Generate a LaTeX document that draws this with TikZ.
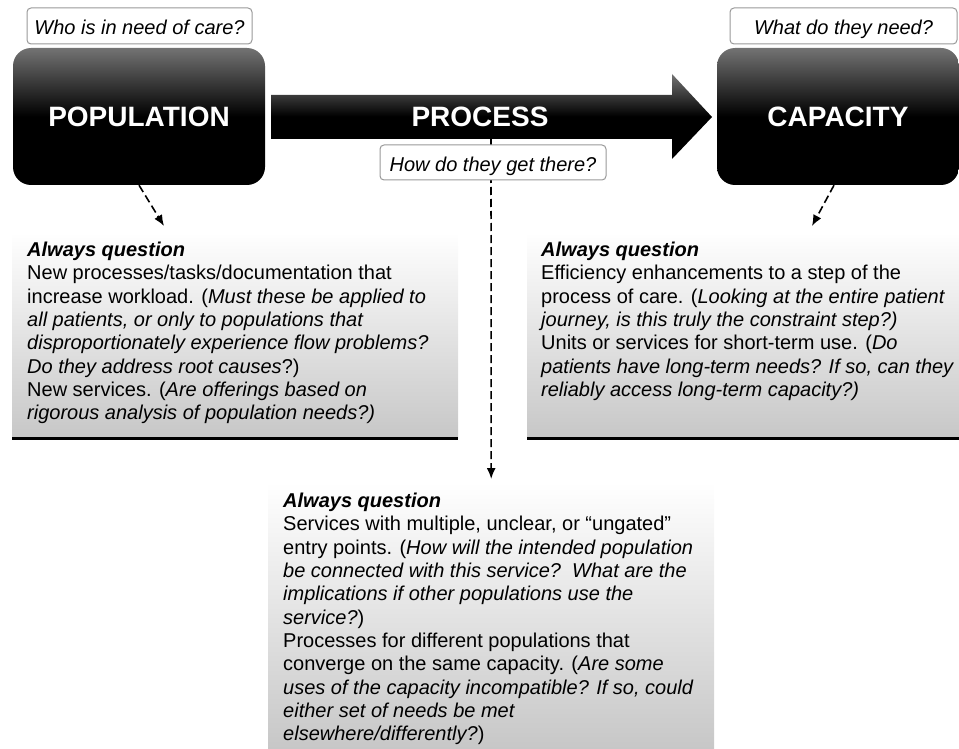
\documentclass[tikz,border=0pt]{standalone}
\usepackage{fontspec}
\setmainfont{Liberation Sans}
\usetikzlibrary{positioning,arrows.meta,arrows}
\usetikzlibrary{calc}
\tikzset{
bigbox/.style={
  rectangle, rounded corners=18pt, draw=none,
  top color=black!55, bottom color=black, middle color=black,
  text=white, font=\fontsize{28}{32}\selectfont\bfseries,
  minimum width=252pt, minimum height=137pt, inner sep=0pt
  },
askbox/.style={
  rectangle, rounded corners=4pt, draw=black!40, line width=1pt, fill=white,
  font=\fontsize{20}{24}\selectfont\itshape, inner sep=0pt,
  text height=18pt, text depth=0pt, minimum height=36pt
  },
notebox/.style={
  rectangle, draw=none, top color=white, bottom color=black!22,
  inner sep=0pt, anchor=north west
  },
notetext/.style={
  align=left, inner sep=0pt, anchor=north west,
  font=\fontsize{20}{23.3}\selectfont
  },
dasharrow/.style={
  ->, dash pattern=on 8pt off 4pt, line width=1.6pt
  }
}

\begin{document}
\begin{tikzpicture}[x=1pt,y=-1pt,>={Latex[length=11pt,width=9pt]}]
\useasboundingbox (0,0) rectangle (959,749);

% main boxes

\node[bigbox](population) at (139,116.5) {POPULATION};
\node[bigbox, minimum width=242pt](capacity) at (838,116.5) {CAPACITY};

\shade[top color=black!55, bottom color=black, middle color=black]
  (271,95) -- (672,95) -- (672,74) -- (712,117) -- (672,159)
  -- (672,139) -- (271,139) -- cycle;
\node[text=white, font=\fontsize{28}{32}\selectfont\bfseries](process) at (480,117) {PROCESS};

% questions above

\node[askbox, minimum width=225pt](whoq) at (139.5,26) {Who is in need of care?};
\node[askbox, minimum width=227pt](whatq) at (843.5,26) {What do they need?};

% notes

\node[notebox, minimum width=446pt, minimum height=206pt](popnote) at (12,232) {};
\draw[line width=3pt] (popnote.south west) -- (popnote.south east);

\node[notebox, minimum width=432pt, minimum height=206pt](capnote) at (527,232) {};
\draw[line width=3pt] (capnote.south west) -- (capnote.south east);

\node[notebox, minimum width=446pt, minimum height=267pt](procnote) at (268,482) {};

\node[notetext, below right=10pt and 15pt of popnote.north west](poptext)
{
\textbf{\textit{Always question}}\\
New processes/tasks/documentation that\\
increase workload. (\textit{Must these be applied to}\\
\textit{all patients, or only to populations that}\\
\textit{disproportionately experience flow problems?}\\
\textit{Do they address root causes}?)\\
New services. (\textit{Are offerings based on}\\
\textit{rigorous analysis of population needs?)}
};

\node[notetext, below right=10pt and 14pt of capnote.north west](captext)
{
\textbf{\textit{Always question}}\\
Efficiency enhancements to a step of the\\
process of care. (\textit{Looking at the entire patient}\\
\textit{journey, is this truly the constraint step?)}\\
Units or services for short-term use. (\textit{Do}\\
\textit{patients have long-term needs? If so, can they}\\
\textit{reliably access long-term capacity?)}
};

\node[notetext, below right=11pt and 15pt of procnote.north west](proctext)
{
\textbf{\textit{Always question}}\\
Services with multiple, unclear, or “ungated”\\
entry points. (\textit{How will the intended population}\\
\textit{be connected with this service?\ \ What are the}\\
\textit{implications if other populations use the}\\
\textit{service?})\\
Processes for different populations that\\
converge on the same capacity. (\textit{Are some}\\
\textit{uses of the capacity incompatible? If so, could}\\
\textit{either set of needs be met}\\
\textit{elsewhere/differently?})
};

% dashed arrows

\coordinate (popend) at (164,226);
\coordinate (capend) at (812,226);
\coordinate (procstart) at (491,139);

\draw[dasharrow] (population.south) -- (popend);
\draw[dasharrow] ([xshift=-4pt]capacity.south) -- (capend);
\draw[dasharrow] (procstart) -- ([yshift=3pt]procnote.north);

\node[askbox, minimum width=226pt, minimum height=35pt](howq) at (493,162.5) {How do they get there?};

\end{tikzpicture}
\end{document}
